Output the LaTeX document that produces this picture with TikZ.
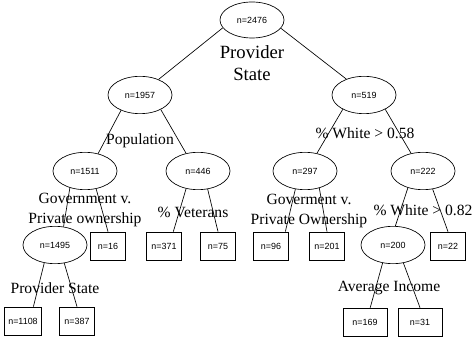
\documentclass[tikz,border=0pt]{standalone}
\usepackage{fontspec}
\setmainfont{Liberation Serif}
\newfontfamily\countfont{Liberation Sans}
\usetikzlibrary{shapes.geometric}

\begin{document}
\begin{tikzpicture}[x=0.75pt,y=-0.75pt,
  split/.style={ellipse,draw,line width=0.5pt,minimum width=48pt,minimum height=28pt,inner sep=0pt,font=\countfont\fontsize{6.7}{8}\selectfont},
  leaf/.style={rectangle,draw,line width=0.5pt,minimum width=26pt,minimum height=21pt,inner sep=0pt,font=\countfont\fontsize{6.7}{8}\selectfont},
  rule/.style={align=center,inner sep=0pt,font=\fontsize{11.7}{15}\selectfont},
  branch/.style={line width=0.5pt}]
  \useasboundingbox (0,0) rectangle (473,341);
  % split nodes
  \node[split,minimum height=27pt] (n2476) at (252,20) {n=2476};
  \node[split] (n1957) at (140,95) {n=1957};
  \node[split] (n519) at (364,95) {n=519};
  \node[split] (n1511) at (85,171) {n=1511};
  \node[split] (n446) at (198,171) {n=446};
  \node[split] (n297) at (305,171) {n=297};
  \node[split] (n222) at (423,171) {n=222};
  \node[split] (n1495) at (55,245) {n=1495};
  \node[split] (n200) at (393,245) {n=200};
  % leaves
  \node[leaf] (n16) at (108,246) {n=16};
  \node[leaf] (n371) at (164,246) {n=371};
  \node[leaf] (n75) at (218,246) {n=75};
  \node[leaf] (n96) at (271,246) {n=96};
  \node[leaf] (n201) at (327,246) {n=201};
  \node[leaf] (n22) at (448,246) {n=22};
  \node[leaf,minimum width=28pt] (n1108) at (23,321) {n=1108};
  \node[leaf] (n387) at (77,321) {n=387};
  \node[leaf,minimum width=33pt] (n169) at (365,322) {n=169};
  \node[leaf,minimum width=33pt] (n31) at (420,322) {n=31};
  % branches
  \draw[branch] (n2476.195) -- (n1957.40);
  \draw[branch] (n2476.-16) -- (n519.138);
  \draw[branch] (n1957.219) -- (n1511.53);
  \draw[branch] (n1957.-35) -- (n446.124);
  \draw[branch] (n519.214) -- (n297.56);
  \draw[branch] (n519.-34) -- (n222.124);
  \draw[branch] (n1511.228) -- (n1495.65);
  \draw[branch] (n1511.-58) -- (n16.north);
  \draw[branch] (n446.236) -- (n371.57);
  \draw[branch] (n446.-62) -- (n75.north);
  \draw[branch] (n297.242) -- (n96.45);
  \draw[branch] (n297.-50) -- (n201.north);
  \draw[branch] (n222.228) -- (n200.83);
  \draw[branch] (n222.-62) -- (n22.north);
  \draw[branch] (n1495.239) -- (n1108.54);
  \draw[branch] (n1495.-63) -- (n387.north);
  \draw[branch] (n200.240) -- (n169.70);
  \draw[branch] (n200.-60) -- (n31.north);
  % split rules
  \node[rule,font=\fontsize{14}{17}\selectfont] (r2476) at (252,63) {Provider\\State};
  \node[rule] (r1957) at (140,141) {Population};
  \node[rule] (r519) at (365,133) {\% White > 0.58};
  \node[rule] (r1511) at (85,210) {Government v.\\Private ownership};
  \node[rule] (r446) at (193,212) {\% Veterans};
  \node[rule] (r297) at (309,211) {Goverment v.\\Private Ownership};
  \node[rule] (r222) at (423,210) {\% White > 0.82};
  \node[rule] (r1495) at (55,288) {Provider State};
  \node[rule] (r200) at (389,288) {Average Income};
\end{tikzpicture}
\end{document}
